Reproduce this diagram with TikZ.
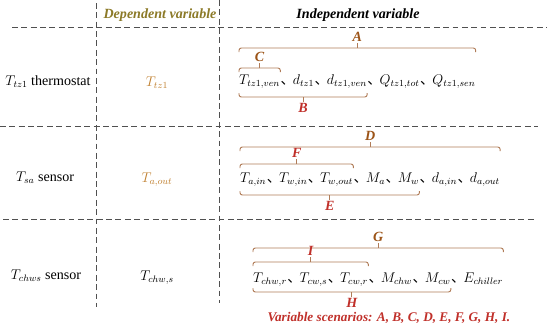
\documentclass[tikz,border=0pt]{standalone}
\usepackage{fontspec}
\setmainfont{Liberation Serif}
\newfontfamily\cjk{Noto Sans CJK SC}
\usepackage{xcolor}
\usetikzlibrary{positioning}

\definecolor{hdcol}{HTML}{8C7A28}
\definecolor{depcol}{HTML}{C08030}
\definecolor{capcol}{HTML}{B07C58}
\definecolor{lbbrown}{HTML}{9C5418}
\definecolor{lbred}{HTML}{C0302A}
\definecolor{cellcol}{HTML}{505050}

\tikzset{
  every node/.style={font=\fontsize{12}{14}\selectfont},
  cellline/.style={cellcol, line width=0.8pt, dash pattern=on 5pt off 3pt},
  headtxt/.style={font=\fontsize{12}{14}\selectfont\bfseries\itshape},
  varnode/.style={inner sep=0pt, anchor=base west},
  capline/.style={capcol, line width=0.8pt, rounded corners=2pt},
  caplabel/.style={inner sep=1pt, font=\fontsize{12}{14}\selectfont\bfseries\itshape},
}

% enumeration comma
\newcommand{\dun}{{\cjk 、}\kern-1.5pt}
% bracket above: from, to, y, name, text
\newcommand{\capover}[5]{%
  \draw[capline] (#1 |- 0,#3+4) -- (#1 |- 0,#3) -- coordinate[midway] (#4m) (#2 |- 0,#3) -- (#2 |- 0,#3+4);
  \draw[capline] (#4m) -- ++(0,-5) node[caplabel, anchor=south] (#4) {#5};
}
% bracket below: from, to, y, name, text
\newcommand{\capunder}[5]{%
  \draw[capline] (#1 |- 0,#3-4) -- (#1 |- 0,#3) -- coordinate[midway] (#4m) (#2 |- 0,#3) -- (#2 |- 0,#3-4);
  \draw[capline] (#4m) -- ++(0,5) node[caplabel, anchor=north] (#4) {#5};
}

\begin{document}
\begin{tikzpicture}[x=0.03cm, y=-0.03cm]
  \useasboundingbox (0,0) rectangle (550,334);

  % table lines
  \draw[cellline] (96,3) -- (96,307);
  \draw[cellline] (219,0) -- (219,303);
  \draw[cellline] (12,27) -- (547,27);
  \draw[cellline] (0,126) -- (538,126);
  \draw[cellline] (3,219) -- (537,219);

  % headers
  \node[headtxt, text=hdcol] (hdep) at (160,15) {Dependent variable};
  \node[headtxt] (hind) at (358,15) {Independent variable};

  % first column
  \node (thermo) at (48,82) {$T_{tz1}$ thermostat};
  \node (sasens) at (45,178) {$T_{sa}$ sensor};
  \node (chsens) at (46,276) {$T_{chws}$ sensor};

  % dependent variables
  \node[text=depcol] (dep1) at (157,83) {$T_{tz1}$};
  \node[text=depcol] (dep2) at (157,180) {$T_{a,out}$};
  \node (dep3) at (157,278) {$T_{chw,s}$};

  % independent variables, row 1
  \node[varnode] (a1) at (239,84) {$T_{tz1,ven}$};
  \node[varnode] (a2) at (a1.base east) {\dun$d_{tz1}$};
  \node[varnode] (a3) at (a2.base east) {\dun$d_{tz1,ven}$};
  \node[varnode] (a4) at (a3.base east) {\dun$Q_{tz1,tot}$};
  \node[varnode] (a5) at (a4.base east) {\dun$Q_{tz1,sen}$};
  \capover{a1.west}{a5.east}{48}{capA}{\textcolor{lbbrown}{A}}
  \capover{a1.west}{a1.east}{68}{capC}{\textcolor{lbbrown}{C}}
  \capunder{a1.west}{a3.east}{97}{capB}{\textcolor{lbred}{B}}

  % independent variables, row 2
  \node[varnode] (b1) at (240,182) {$T_{a,in}$};
  \node[varnode] (b2) at (b1.base east) {\dun$T_{w,in}$};
  \node[varnode] (b3) at (b2.base east) {\dun$T_{w,out}$};
  \node[varnode] (b4) at (b3.base east) {\dun$M_{a}$};
  \node[varnode] (b5) at (b4.base east) {\dun$M_{w}$};
  \node[varnode] (b6) at (b5.base east) {\dun$d_{a,in}$};
  \node[varnode] (b7) at (b6.base east) {\dun$d_{a,out}$};
  \capover{b1.west}{b7.east}{147}{capD}{\textcolor{lbbrown}{D}}
  \capover{b1.west}{b3.east}{164}{capF}{\textcolor{lbred}{F}}
  \capunder{b1.west}{b5.east}{195}{capE}{\textcolor{lbred}{E}}

  % independent variables, row 3
  \node[varnode] (c1) at (253,282) {$T_{chw,r}$};
  \node[varnode] (c2) at (c1.base east) {\dun$T_{cw,s}$};
  \node[varnode] (c3) at (c2.base east) {\dun$T_{cw,r}$};
  \node[varnode] (c4) at (c3.base east) {\dun$M_{chw}$};
  \node[varnode] (c5) at (c4.base east) {\dun$M_{cw}$};
  \node[varnode] (c6) at (c5.base east) {\dun$E_{chiller}$};
  \capover{c1.west}{c6.east}{248}{capG}{\textcolor{lbbrown}{G}}
  \capover{c1.west}{c3.east}{262}{capI}{\textcolor{lbred}{I}}
  \capunder{c1.west}{c5.east}{292}{capH}{\textcolor{lbred}{H}}

  % scenarios
  \node[headtxt, font=\fontsize{11.3}{13}\selectfont\bfseries\itshape, text=lbred] (scen) at (389,318) {Variable scenarios: A, B, C, D, E, F, G, H, I.};
\end{tikzpicture}
\end{document}
